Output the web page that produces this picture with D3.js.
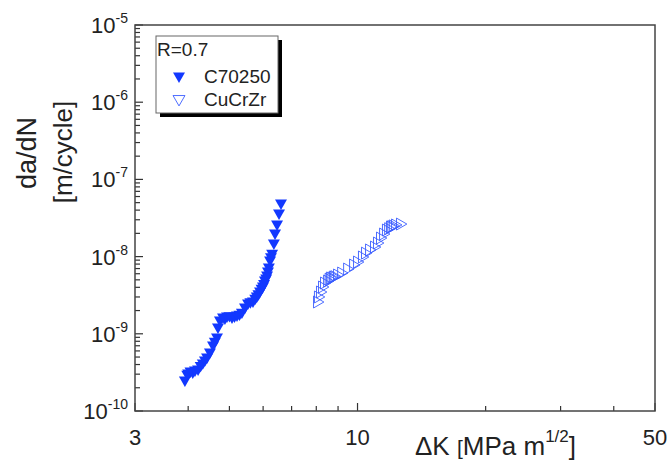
<!DOCTYPE html>
<html>
<head>
<meta charset="utf-8">
<script src="https://cdn.jsdelivr.net/npm/d3@7"></script>
<style>
  body { margin: 0; background: #fff; }
  text { font-family: Arial, "Liberation Sans", sans-serif; fill: #222; }
</style>
</head>
<body>
<svg id="chart" width="670" height="463"></svg>
<script>
// C70250, R=0.7 : [dK (MPa m^1/2), da/dN (m/cycle)]
var c70250 = [
  [3.93, 2.52e-10], [3.98, 3.0e-10], [4.00, 3.10e-10], [4.05, 3.3e-10], [4.10, 3.20e-10],
  [4.15, 3.4e-10], [4.22, 3.50e-10], [4.28, 3.9e-10], [4.33, 4.19e-10], [4.38, 4.6e-10],
  [4.43, 5.00e-10], [4.50, 5.81e-10], [4.575, 7.16e-10], [4.62, 8.0e-10], [4.675, 9.10e-10],
  [4.70, 1.225e-9], [4.75, 1.51e-9], [4.83, 1.65e-9], [4.88, 1.6e-9], [4.935, 1.70e-9],
  [5.00, 1.72e-9], [5.07, 1.65e-9], [5.14, 1.7e-9], [5.21, 1.75e-9], [5.28, 1.8e-9],
  [5.35, 1.91e-9], [5.44, 2.22e-9], [5.53, 2.51e-9], [5.60, 2.6e-9], [5.68, 2.66e-9],
  [5.75, 2.9e-9], [5.80, 3.09e-9], [5.85, 3.3e-9], [5.90, 3.58e-9], [5.95, 3.9e-9],
  [5.995, 4.16e-9], [6.03, 4.5e-9], [6.06, 4.98e-9], [6.10, 5.3e-9], [6.13, 5.78e-9],
  [6.16, 6.5e-9], [6.19, 7.33e-9], [6.23, 9.04e-9], [6.26, 1.0e-8], [6.30, 1.11e-8],
  [6.36, 1.50e-8], [6.40, 2.02e-8], [6.47, 2.64e-8], [6.54, 3.67e-8], [6.61, 4.94e-8]
];
// CuCrZr, R=0.7
var cucrzr = [
  [8.03, 2.58e-9], [8.07, 3.00e-9], [8.16, 3.48e-9], [8.25, 4.04e-9], [8.34, 4.55e-9],
  [8.48, 4.83e-9], [8.55, 5.1e-9], [8.61, 5.28e-9], [8.68, 5.3e-9], [8.76, 5.44e-9],
  [8.82, 5.5e-9], [8.95, 5.78e-9], [9.15, 6.13e-9], [9.45, 6.90e-9], [9.76, 7.78e-9],
  [9.97, 8.51e-9], [10.24, 9.89e-9], [10.41, 1.11e-8], [10.64, 1.22e-8], [10.93, 1.33e-8],
  [11.11, 1.50e-8], [11.29, 1.74e-8], [11.48, 1.96e-8], [11.66, 2.21e-8], [11.80, 2.3e-8],
  [11.92, 2.42e-8], [12.00, 2.45e-8], [12.10, 2.5e-8], [12.25, 2.57e-8], [12.58, 2.64e-8]
];
var xTicks = [3, 10, 50];
var xMinor = [4, 5, 6, 7, 8, 9, 20, 30, 40];
var yExp = [-10, -9, -8, -7, -6, -5];
var legendTitle = 'R=0.7';
var seriesNames = ['C70250', 'CuCrZr'];

const svg = d3.select('#chart');
const pLeft = 135, pRight = 655, pTop = 25, pBottom = 411;
const blue = '#1238ff';

const x = d3.scaleLog().domain([3, 50]).range([pLeft, pRight]);
const y = d3.scaleLog().domain([1e-10, 1e-5]).range([pBottom, pTop]);

// y minor ticks: 2..9 in each decade
var yMinor = [];
yExp.slice(0, -1).forEach(e => { for (let k = 2; k <= 9; k++) yMinor.push(k * Math.pow(10, e)); });

const axes = svg.append('g').attr('stroke', '#333').attr('stroke-width', 1.2);
axes.append('g').selectAll('line').data(yMinor).join('line')
  .attr('x1', pLeft).attr('x2', pLeft + 5)
  .attr('y1', d => y(d)).attr('y2', d => y(d));
axes.append('g').selectAll('line').data(yExp).join('line')
  .attr('x1', pLeft).attr('x2', pLeft + 8)
  .attr('y1', d => y(Math.pow(10, d))).attr('y2', d => y(Math.pow(10, d)));
axes.append('g').selectAll('line').data(xMinor).join('line')
  .attr('x1', d => x(d)).attr('x2', d => x(d))
  .attr('y1', pBottom).attr('y2', pBottom - 5);
axes.append('g').selectAll('line').data(xTicks).join('line')
  .attr('x1', d => x(d)).attr('x2', d => x(d))
  .attr('y1', pBottom).attr('y2', pBottom - 8);

svg.append('rect')
  .attr('x', pLeft).attr('y', pTop)
  .attr('width', pRight - pLeft).attr('height', pBottom - pTop)
  .attr('fill', 'none').attr('stroke', '#444').attr('stroke-width', 1.5);

// y tick labels 10^n
const yl = svg.append('g').selectAll('text').data(yExp).join('text')
  .attr('x', 128)
  .attr('y', d => y(Math.pow(10, d)) + 8)
  .attr('text-anchor', 'end')
  .attr('font-size', 22);
yl.append('tspan').text('10');
yl.append('tspan').attr('font-size', 14).attr('dy', -10).text(d => d);

svg.append('g').selectAll('text').data(xTicks).join('text')
  .attr('x', d => x(d)).attr('y', 445)
  .attr('text-anchor', 'middle').attr('font-size', 22)
  .text(d => d);

// axis titles
svg.append('text')
  .attr('transform', 'translate(36,153) rotate(-90)')
  .attr('text-anchor', 'middle').attr('font-size', 27)
  .text('da/dN');
svg.append('text')
  .attr('transform', 'translate(72,152) rotate(-90)')
  .attr('text-anchor', 'middle').attr('font-size', 26)
  .text('[m/cycle]');
const xt = svg.append('text').attr('x', 415).attr('y', 455).attr('font-size', 26);
xt.append('tspan').text('\u0394K ');
xt.append('tspan').attr('font-size', 21).text('[');
xt.append('tspan').text('MPa m');
xt.append('tspan').attr('font-size', 17).attr('dy', -13).text('1/2');
xt.append('tspan').attr('dy', 13).text(']');

// data
const tri = d3.symbol().type(d3.symbolTriangle).size(62);
svg.append('g').selectAll('path').data(cucrzr).join('path')
  .attr('d', tri)
  .attr('transform', d => `translate(${x(d[0])},${y(d[1])}) rotate(90)`)
  .attr('fill', 'none').attr('stroke', '#3a5cff').attr('stroke-width', 0.9);
svg.append('g').selectAll('path').data(c70250).join('path')
  .attr('d', tri)
  .attr('transform', d => `translate(${x(d[0])},${y(d[1])}) rotate(180)`)
  .attr('fill', blue);

// legend
const lg = svg.append('g');
lg.append('rect').attr('x', 160).attr('y', 40).attr('width', 122).attr('height', 77).attr('fill', '#000');
lg.append('rect').attr('x', 156).attr('y', 36).attr('width', 122).attr('height', 77)
  .attr('fill', '#fff').attr('stroke', '#666').attr('stroke-width', 1);
lg.append('text').attr('x', 157).attr('y', 56).attr('font-size', 19).text(legendTitle);
seriesNames.forEach((n, i) => {
  const cy = 76 + i * 23;
  lg.append('path').attr('d', tri)
    .attr('transform', `translate(179,${cy}) rotate(180)`)
    .attr('fill', i === 0 ? blue : 'none')
    .attr('stroke', i === 0 ? 'none' : '#3a5cff').attr('stroke-width', 0.9);
  lg.append('text').attr('x', 204).attr('y', cy + 7).attr('font-size', 19).text(n);
});
</script>
</body>
</html>
